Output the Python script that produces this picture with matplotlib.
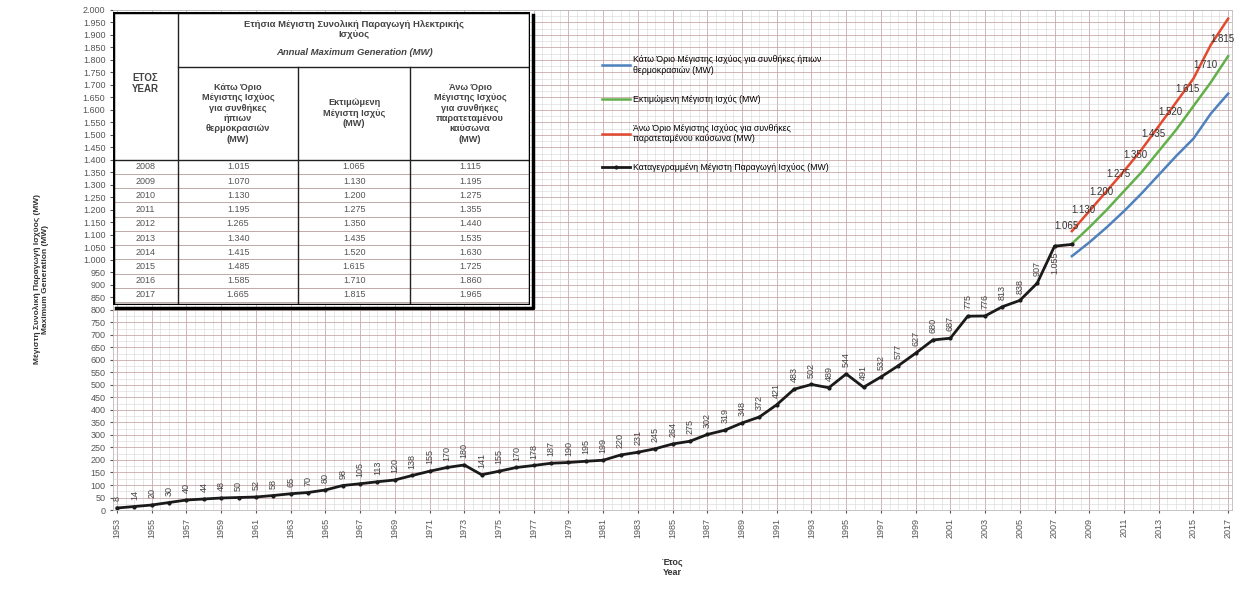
import matplotlib.pyplot as plt
import numpy as np
from matplotlib.ticker import MultipleLocator, FuncFormatter

plt.rcParams['font.family'] = ['Liberation Sans', 'DejaVu Sans']

# καταγεγραμμένη μέγιστη παραγωγή 1953-2008
hist_years = list(range(1953, 2009))
hist_mw = [8, 14, 20, 30, 40, 44, 48, 50, 52, 58, 65, 70, 80, 98, 105, 113,
           120, 138, 155, 170, 180, 141, 155, 170, 178, 187, 190, 195, 199, 220,
           231, 245, 264, 275, 302, 319, 348, 372, 421, 483, 502, 489, 544, 491,
           532, 577, 627, 680, 687, 775, 776, 813, 838, 907, 1055, 1062]

# πρόβλεψη 2008-2017
fc_years = list(range(2008, 2018))
low_mw = [1015, 1070, 1130, 1195, 1265, 1340, 1415, 1485, 1585, 1665]
exp_mw = [1065, 1130, 1200, 1275, 1350, 1435, 1520, 1615, 1710, 1815]
high_mw = [1115, 1195, 1275, 1355, 1440, 1535, 1630, 1725, 1860, 1965]

lbl_low = "Κάτω Όριο Μέγιστης Ισχύος για συνθήκες ήπιων\nθερμοκρασιών (MW)"
lbl_exp = "Εκτιμώμενη Μέγιστη Ισχύς (MW)"
lbl_high = "Άνω Όριο Μέγιστης Ισχύος για συνθήκες\nπαρατεταμένου καύσωνα (MW)"
lbl_hist = "Καταγεγραμμένη Μέγιστη Παραγωγή Ισχύος (MW)"


def gr(v):
    return f"{v:,.0f}".replace(",", ".")


fig = plt.figure(figsize=(12.49, 5.94), dpi=100)
ax = fig.add_axes([0.0905, 0.1414, 0.896, 0.842])

ax.plot(fc_years, low_mw, color="#4f81bd", lw=1.8, label=lbl_low)
ax.plot(fc_years, exp_mw, color="#62b04a", lw=1.8, label=lbl_exp)
ax.plot(fc_years, high_mw, color="#e2492f", lw=1.8, label=lbl_high)
ax.plot(hist_years, hist_mw, color="#1a1a1a", lw=2.0, marker="o", ms=2,
        label=lbl_hist)

# ετικέτες τιμών
for yr, v in zip(hist_years[:-2], hist_mw[:-2]):
    ax.annotate(str(v), (yr, v), xytext=(0, 5), textcoords="offset points",
                rotation=90, ha="center", va="bottom", fontsize=6.5,
                color="#444444")
ax.annotate(gr(hist_mw[-2]), (hist_years[-2], hist_mw[-2]), xytext=(0, -4),
            textcoords="offset points", rotation=90, ha="center", va="top",
            fontsize=6.5, color="#444444")
for yr, v in zip(fc_years, exp_mw):
    ax.annotate(gr(v), (yr, v), xytext=(-4, 9), textcoords="offset points",
                ha="center", va="bottom", fontsize=7, color="#333333")

ax.set_xlim(1952.77, 2017.23)
ax.set_ylim(0, 2000)
ax.set_xticks(range(1953, 2018, 2))
ax.xaxis.set_minor_locator(MultipleLocator(0.5))
ax.yaxis.set_major_locator(MultipleLocator(50))
ax.yaxis.set_minor_locator(MultipleLocator(25))
ax.yaxis.set_major_formatter(FuncFormatter(lambda v, p: gr(v)))
ax.tick_params(axis="x", labelrotation=90, labelsize=6.5, colors="#555555",
               length=2)
ax.tick_params(axis="y", labelsize=6.5, colors="#555555", length=2)
ax.tick_params(which="minor", length=0)

ax.grid(True, which="major", color="#c9a9a9", lw=0.6)
ax.grid(True, which="minor", color="#d6d6d6", lw=0.4)
ax.set_axisbelow(True)
for s in ax.spines.values():
    s.set_color("#bbbbbb")
    s.set_linewidth(0.6)

ax.set_xlabel("Έτος\nYear", fontsize=6.5, fontweight="bold", color="#333333",
              labelpad=14)
fig.text(0.033, 0.53, "Μέγιστη Συνολική Παραγωγή Ισχύος (MW)\nMaximum Generation (MW)",
         rotation=90, ha="center", va="center", fontsize=6, fontweight="bold",
         color="#333333")

ax.legend(loc="upper left", bbox_to_anchor=(0.43, 0.925), frameon=False,
          fontsize=6.3, handlelength=3.2, labelspacing=2.3, handletextpad=0.3)

# πίνακας
tx = fig.add_axes([0.0905, 0.4865, 0.334, 0.494])
tx.set_xlim(0, 417)
tx.set_ylim(293, 0)
tx.axis("off")
tx.add_patch(plt.Rectangle((0, 0), 417, 293, facecolor="white",
                           edgecolor="none", zorder=0))
cols = [0, 65, 185, 297, 417]
row0, row1, row2 = 0, 55, 148
row_h = (290 - row2) / len(fc_years)

for i, (yr, a, b, c) in enumerate(zip(fc_years, low_mw, exp_mw, high_mw)):
    yc = row2 + (i + 0.5) * row_h
    for j, txt in enumerate([str(yr), gr(a), gr(b), gr(c)]):
        tx.text((cols[j] + cols[j + 1]) / 2, yc, txt, ha="center",
                va="center", fontsize=6.5, color="#555555")
    tx.plot([0, 417], [row2 + (i + 1) * row_h] * 2, color="#b59a9a", lw=0.6)

tx.plot([0, 417], [row2, row2], color="#222222", lw=1.0)
tx.plot([cols[1], 417], [row1, row1], color="#222222", lw=1.0)
for cx in cols[1:-1]:
    y0 = row0 if cx == cols[1] else row1
    tx.plot([cx, cx], [y0, 293], color="#222222", lw=1.0)
tx.plot([0, 417, 417, 0, 0], [0, 0, 293, 293, 0], color="black", lw=2.5)
tx.plot([3, 420, 420], [296, 296, 3], color="black", lw=2.5, clip_on=False)

tx.text(cols[0] + 32, 72, "ΕΤΟΣ\nYEAR", ha="center",
        va="center", fontsize=7, fontweight="bold", color="#444444")
tx.text((cols[1] + 417) / 2, 18, "Ετήσια Μέγιστη Συνολική Παραγωγή Ηλεκτρικής\nΙσχύος",
        ha="center", va="center", fontsize=6.8, fontweight="bold",
        color="#444444", linespacing=1.2)
tx.text((cols[1] + 417) / 2, 41, "Annual Maximum Generation (MW)",
        ha="center", va="center", fontsize=6.8, fontweight="bold",
        style="italic", color="#444444")
heads = ["Κάτω Όριο\nΜέγιστης Ισχύος\nγια συνθήκες\nήπιων\nθερμοκρασιών\n(MW)",
         "Εκτιμώμενη\nΜέγιστη Ισχύς\n(MW)",
         "Άνω Όριο\nΜέγιστης Ισχύος\nγια συνθήκες\nπαρατεταμένου\nκαύσωνα\n(MW)"]
for j, h in enumerate(heads):
    tx.text((cols[j + 1] + cols[j + 2]) / 2, (row1 + row2) / 2, h,
            ha="center", va="center", fontsize=6.6, fontweight="bold",
            color="#444444", linespacing=1.2)

fig.savefig("out.png", dpi=100)
